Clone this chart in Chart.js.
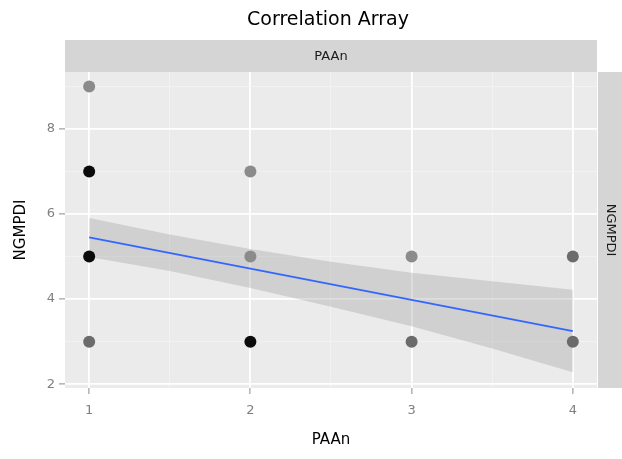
<!DOCTYPE html>
<html>
<head>
<meta charset="utf-8">
<script src="https://cdn.jsdelivr.net/npm/chart.js@4.4.1/dist/chart.umd.min.js"></script>
<style>
  html, body { margin: 0; padding: 0; background: #ffffff; }
  #wrap { width: 622px; height: 459px; }
</style>
</head>
<body>
<div id="wrap"><canvas id="chart" width="622" height="459"></canvas></div>
<script>
// observed points (PAAn vs NGMPDI) and how many observations overlap at each
const pointX = [1, 1, 1, 1, 2, 2, 2, 3, 3, 4, 4];
const pointY = [9, 7, 5, 3, 7, 5, 3, 5, 3, 5, 3];
const overlap = [1, 3, 3, 2, 1, 1, 3, 1, 2, 2, 2];

// linear fit and its confidence band
const fitX = [1, 4];
const fitY = [5.45, 3.25];
const bandX = [1, 1.5, 2, 2.5, 3, 3.5, 4];
const bandUpper = [5.91, 5.52, 5.18, 4.88, 4.62, 4.42, 4.22];
const bandLower = [4.99, 4.66, 4.26, 3.82, 3.36, 2.84, 2.28];

const xMajor = [1, 2, 3, 4];
const xMinor = [1.5, 2.5, 3.5];
const yMajor = [2, 4, 6, 8];
const yMinor = [3, 5, 7, 9];

const FONT = "'DejaVu Sans', sans-serif";
const shade = { 1: "#8b8b8b", 2: "#6b6b6b", 3: "#0b0b0b" };

function tickList(major, minor) {
  return major.concat(minor).sort((a, b) => a - b).map((v) => ({ value: v }));
}
const isMajor = (list, v) => list.indexOf(v) !== -1;

const facetPlugin = {
  id: "facet",
  beforeDraw(chart) {
    const { ctx, chartArea: a } = chart;
    ctx.save();
    ctx.fillStyle = "#ebebeb";
    ctx.fillRect(a.left, a.top, a.right - a.left, a.bottom - a.top);
    ctx.restore();
  },
  afterDraw(chart) {
    const { ctx, chartArea: a } = chart;
    ctx.save();
    // strips
    ctx.fillStyle = "#d5d5d5";
    ctx.fillRect(a.left, 40, a.right - a.left, a.top - 40);
    ctx.fillRect(a.right + 1, a.top, 622 - a.right - 1, a.bottom - a.top);
    ctx.fillStyle = "#1a1a1a";
    ctx.textAlign = "center";
    ctx.textBaseline = "middle";
    ctx.font = "13px " + FONT;
    ctx.fillText("PAAn", (a.left + a.right) / 2, 57);
    ctx.save();
    ctx.translate(a.right + 13, (a.top + a.bottom) / 2);
    ctx.rotate(Math.PI / 2);
    ctx.fillText("NGMPDI", 0, 0);
    ctx.restore();
    // title
    ctx.fillStyle = "#000000";
    ctx.font = "19px " + FONT;
    ctx.fillText("Correlation Array", (a.left + a.right) / 2 - 3, 20);
    // axis titles
    ctx.font = "15px " + FONT;
    ctx.fillText("PAAn", (a.left + a.right) / 2, 440);
    ctx.save();
    ctx.translate(21, (a.top + a.bottom) / 2);
    ctx.rotate(-Math.PI / 2);
    ctx.fillText("NGMPDI", 0, 0);
    ctx.restore();
    ctx.restore();
  }
};

const points = pointX.map((x, i) => ({ x: x, y: pointY[i] }));

new Chart(document.getElementById("chart"), {
  type: "scatter",
  data: {
    datasets: [
      {
        type: "line",
        data: bandX.map((x, i) => ({ x: x, y: bandUpper[i] })),
        borderWidth: 0,
        pointRadius: 0,
        backgroundColor: "rgba(153,153,153,0.32)",
        fill: "+1",
        order: 3
      },
      {
        type: "line",
        data: bandX.map((x, i) => ({ x: x, y: bandLower[i] })),
        borderWidth: 0,
        pointRadius: 0,
        fill: false,
        order: 3
      },
      {
        type: "line",
        data: fitX.map((x, i) => ({ x: x, y: fitY[i] })),
        borderColor: "#3366ff",
        borderWidth: 1.8,
        pointRadius: 0,
        fill: false,
        order: 2
      },
      {
        data: points,
        pointRadius: 6,
        pointBorderWidth: 0,
        pointBackgroundColor: overlap.map((n) => shade[Math.min(n, 3)]),
        order: 1
      }
    ]
  },
  options: {
    responsive: false,
    animation: false,
    events: [],
    layout: { padding: { top: 72, right: 25, left: 0, bottom: 0 } },
    plugins: { legend: { display: false }, tooltip: { enabled: false }, title: { display: false } },
    scales: {
      x: {
        type: "linear",
        min: 0.85,
        max: 4.15,
        afterBuildTicks: (s) => { s.ticks = tickList(xMajor, xMinor); },
        afterFit: (s) => { s.height = 71; },
        border: { display: false },
        grid: {
          color: (c) => isMajor(xMajor, c.tick.value) ? "#ffffff" : "#f4f4f4",
          lineWidth: (c) => isMajor(xMajor, c.tick.value) ? 1.8 : 0.8,
          tickColor: (c) => isMajor(xMajor, c.tick.value) ? "#8a8a8a" : "rgba(0,0,0,0)",
          tickLength: 6,
          tickWidth: 1
        },
        ticks: {
          autoSkip: false,
          maxRotation: 0,
          padding: 9,
          color: "#808080",
          font: { family: FONT, size: 13 },
          callback: (v) => isMajor(xMajor, v) ? String(v) : ""
        }
      },
      y: {
        type: "linear",
        min: 1.91,
        max: 9.34,
        afterBuildTicks: (s) => { s.ticks = tickList(yMajor, yMinor); },
        afterFit: (s) => { s.width = 65; },
        border: { display: false },
        grid: {
          color: (c) => isMajor(yMajor, c.tick.value) ? "#ffffff" : "#f4f4f4",
          lineWidth: (c) => isMajor(yMajor, c.tick.value) ? 1.8 : 0.8,
          tickColor: (c) => isMajor(yMajor, c.tick.value) ? "#8a8a8a" : "rgba(0,0,0,0)",
          tickLength: 6,
          tickWidth: 1
        },
        ticks: {
          autoSkip: false,
          padding: 4,
          color: "#808080",
          font: { family: FONT, size: 13 },
          callback: (v) => isMajor(yMajor, v) ? String(v) : ""
        }
      }
    }
  },
  plugins: [facetPlugin]
});
</script>
</body>
</html>
